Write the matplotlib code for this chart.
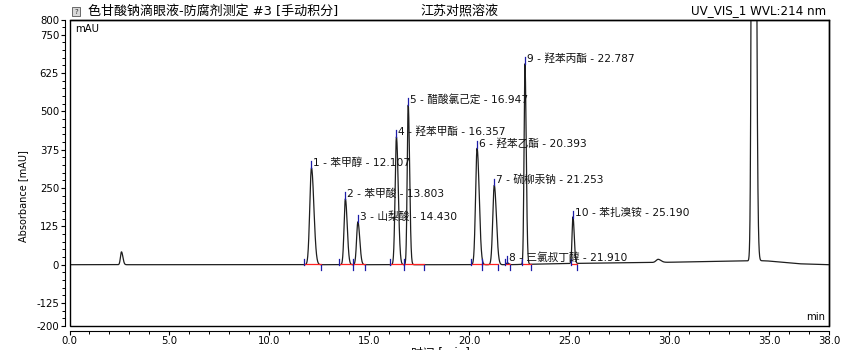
import numpy as np
import matplotlib
matplotlib.use('Agg')
import matplotlib.pyplot as plt
from matplotlib.patches import Rectangle
from matplotlib.ticker import MultipleLocator, FixedLocator, FormatStrFormatter

plt.rcParams['font.family'] = ['DejaVu Sans', 'Noto Sans CJK SC']

# ---- data ----
peak_numbers = [1, 2, 3, 4, 5, 6, 7, 8, 9, 10]
peak_names = ['苯甲醇', '苯甲酸', '山梨酸', '羟苯甲酯', '醋酸氯己定',
              '羟苯乙酯', '硫柳汞钠', '三氯叔丁醇', '羟苯丙酯', '苯扎溴铵']
peak_times = [12.107, 13.803, 14.430, 16.357, 16.947, 20.393, 21.253, 21.910, 22.787, 25.190]
peak_heights = [316, 215, 140, 417, 521, 380, 259, 6, 655, 152]
peak_sigmas = [0.085, 0.065, 0.065, 0.065, 0.05, 0.075, 0.075, 0.05, 0.045, 0.045]
peak_starts = [11.75, 13.50, 14.20, 16.05, 16.75, 20.10, 20.65, 21.80, 22.62, 25.10]
peak_ends = [12.60, 14.20, 14.80, 16.75, 17.75, 20.65, 21.45, 22.05, 23.10, 25.38]

other_times = [2.6, 29.45, 34.22]
other_heights = [42, 10, 5000]
other_sigmas = [0.05, 0.1, 0.065]

drift_times = [0, 22, 25, 30, 33.5, 34.8, 36.5, 38]
drift_values = [0, 0, 4, 8, 12, 13, 3, 0]

x_major = [0, 5, 10, 15, 20, 25, 30, 35, 38]
y_major = [-200, -125, 0, 125, 250, 375, 500, 625, 750, 800]

# ---- build trace ----
t = np.linspace(0, 38, 7601)
signal = np.interp(t, drift_times, drift_values)
for tc, h, s in zip(peak_times + other_times, peak_heights + other_heights,
                    peak_sigmas + other_sigmas):
    sig = np.where(t < tc, s, s * 1.4)
    signal = signal + h * np.exp(-0.5 * ((t - tc) / sig) ** 2)

W, H = 846, 350
fig = plt.figure(figsize=(W / 100, H / 100), dpi=100)
ax = fig.add_axes([69.5 / W, 1 - 326 / H, (829 - 69.5) / W, (326 - 19.5) / H])

ax.plot(t, signal, color='#1e1e1e', lw=0.9, zorder=3)
ax.set_xlim(0, 38)
ax.set_ylim(-200, 800)

# integration marks
for s0, e0 in zip(peak_starts, peak_ends):
    ax.plot([s0, e0], [1, 1], color='#ff2020', lw=0.9, zorder=4)
    ax.plot([s0, s0], [0, 20], color='#1c1ca8', lw=0.9, zorder=4)
    ax.plot([e0, e0], [0, -17], color='#1c1ca8', lw=0.9, zorder=4)

# peak labels
for n, name, tc, h in zip(peak_numbers, peak_names, peak_times, peak_heights):
    ax.plot([tc, tc], [h, h + 22], color='#1c1ca8', lw=0.9, zorder=4)
    ax.text(tc + 0.08, h + 18, f'{n} - {name} - {tc:.3f}', fontsize=7.7,
            va='center', ha='left', color='#111111', zorder=5)

# axes styling
for side in ['left', 'bottom']:
    ax.spines[side].set_position(('outward', 3.3))
    ax.spines[side].set_linewidth(0.8)
for side in ['top', 'right']:
    ax.spines[side].set_linewidth(1.0)
ax.add_patch(Rectangle((0, 0), 1, 1, transform=ax.transAxes, fill=False,
                       lw=1.0, edgecolor='black', clip_on=False, zorder=6))

ax.xaxis.set_major_locator(FixedLocator(x_major))
ax.xaxis.set_minor_locator(MultipleLocator(1))
ax.xaxis.set_major_formatter(FormatStrFormatter('%.1f'))
ax.yaxis.set_major_locator(FixedLocator(y_major))
ax.yaxis.set_minor_locator(MultipleLocator(25))
ax.yaxis.set_major_formatter(FormatStrFormatter('%d'))
ax.tick_params(which='major', direction='out', length=3.2, width=0.8, labelsize=7.3, pad=1)
ax.tick_params(which='minor', direction='out', length=2.0, width=0.7)
ax.tick_params(axis='x', which='major', pad=0.5)

ax.annotate('mAU', xy=(0, 1), xycoords='axes fraction', xytext=(6, -5),
            textcoords='offset pixels', ha='left', va='top', fontsize=7.3)
ax.annotate('min', xy=(1, 0), xycoords='axes fraction', xytext=(-4, 4),
            textcoords='offset pixels', ha='right', va='bottom', fontsize=7.3)

# header texts
fig.patches.append(Rectangle((72 / W, 1 - 16 / H), 8 / W, 9 / H, transform=fig.transFigure,
                             facecolor='#d8d8d8', edgecolor='#555555', lw=0.6))
fig.text(76 / W, 1 - 11.5 / H, '?', fontsize=5, ha='center', va='center', color='#333333')
fig.text(88 / W, 1 - 11 / H, '色甘酸钠滴眼液-防腐剂测定 #3 [手动积分]', fontsize=9.4,
         ha='left', va='center')
fig.text(420 / W, 1 - 11 / H, '江苏对照溶液', fontsize=9.4, ha='left', va='center')
fig.text(826 / W, 1 - 11 / H, 'UV_VIS_1 WVL:214 nm', fontsize=8.6, ha='right', va='center')

fig.text(22.7 / W, 1 - 196 / H, 'Absorbance [mAU]', fontsize=7, rotation=90,
         ha='center', va='center')
fig.text(440 / W, 1 - 346.5 / H, '时间 [min]', fontsize=8.5, ha='center', va='top')

fig.savefig('out.png', dpi=100)
